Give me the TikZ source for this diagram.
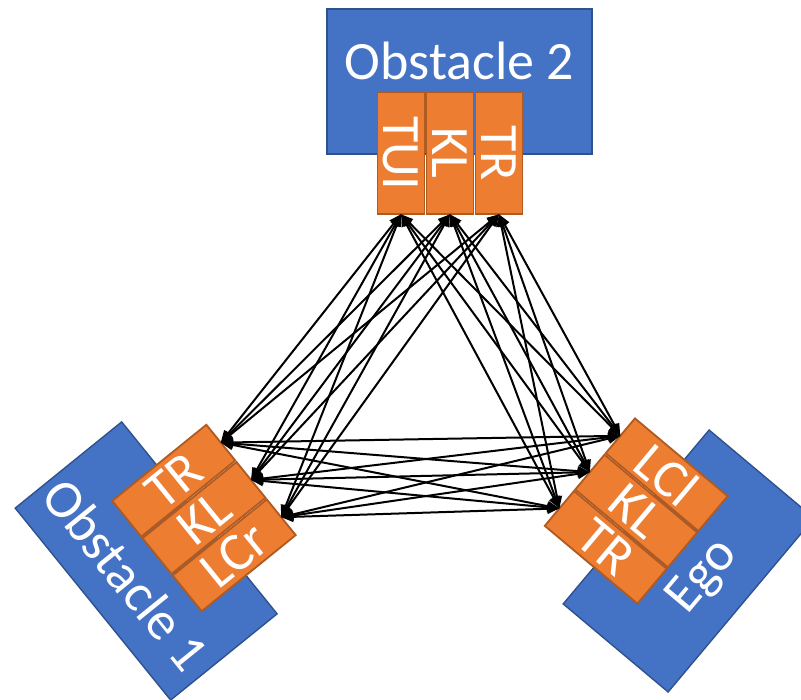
\documentclass[tikz,border=0pt]{standalone}
\usepackage{fontspec}
\setmainfont{Carlito}
\usetikzlibrary{arrows.meta}
\definecolor{boxblue}{HTML}{4472C4}
\definecolor{boxblueline}{HTML}{2F528F}
\definecolor{laneorange}{HTML}{ED7D31}
\definecolor{laneline}{HTML}{AE5A21}
\begin{document}
\begin{tikzpicture}[x=1pt,y=-1pt,
  every node/.style={inner sep=0pt, outer sep=0pt},
  bigtext/.style={font=\fontsize{54}{60}\selectfont, text=white},
  vehicle/.style={draw=boxblueline, fill=boxblue, line width=1.4pt},
  lane/.style={draw=laneline, fill=laneorange, line width=1.8pt, bigtext,
    minimum width=122pt, minimum height=47pt},
  link/.style={draw=black, line width=2pt,
    {Triangle[length=12pt,width=10pt]}-{Triangle[length=12pt,width=10pt]}}
]
\useasboundingbox (0,0) rectangle (801,700);

% Obstacle 2 with its three manoeuvres
\node[vehicle, minimum width=265pt, minimum height=145pt] (obs2) at (459.5,81.5) {};
\node[bigtext, anchor=base] (obs2txt) at (459.5,80) {Obstacle 2};
\begin{scope}[shift={(450,153.3)}, transform shape]
  \node[lane, rotate=-90] (t1) at (-49,0) {TUI};
  \node[lane, rotate=-90] (t2) at (0,0) {KL};
  \node[lane, rotate=-90] (t3) at (49,0) {TR};
\end{scope}

% Obstacle 1 with its three manoeuvres
\begin{scope}[shift={(204,518)}, rotate=-51, transform shape]
  \node[vehicle, minimum width=247pt, minimum height=137pt] (obs1) at (-3,72) {};
  \node[bigtext] (obs1txt) at (-5,96) {Obstacle 1};
  \node[lane, minimum width=121pt, minimum height=46pt, rotate=90] (l1) at (-48,0) {TR};
  \node[lane, minimum width=121pt, minimum height=46pt, rotate=90] (l2) at (0,0) {KL};
  \node[lane, minimum width=121pt, minimum height=46pt, rotate=90] (l3) at (48,0) {LCr};
\end{scope}

% Ego vehicle with its three manoeuvres
\begin{scope}[shift={(636.2,511)}, rotate=-130, transform shape]
  \node[vehicle, minimum width=227pt, minimum height=137pt] (ego) at (4.6,-72.3) {};
  \node[bigtext, rotate=180] (egotxt) at (7,-94) {Ego};
  \node[lane, minimum width=121pt, minimum height=45.5pt, rotate=90] (r1) at (-47.4,0) {LCl};
  \node[lane, minimum width=121pt, minimum height=45.5pt, rotate=90] (r2) at (0,0) {KL};
  \node[lane, minimum width=121pt, minimum height=45.5pt, rotate=90] (r3) at (47.4,0) {TR};
\end{scope}

% every manoeuvre interacts with every manoeuvre of the other vehicles
\foreach \a in {1,2,3} {
  \foreach \b in {1,2,3} {
    \draw[link] (t\a.east) -- (l\b.east);
    \draw[link] (t\a.east) -- (r\b.west);
    \draw[link] (l\a.east) -- (r\b.west);
  }
}
\end{tikzpicture}
\end{document}
